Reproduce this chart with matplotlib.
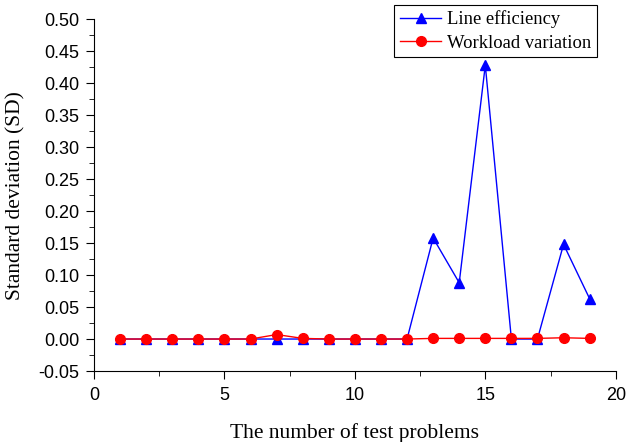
import numpy as np
import matplotlib.pyplot as plt
from matplotlib.ticker import MultipleLocator

# test problem index
problems = list(range(1, 20))

# standard deviation values
line_efficiency = [0, 0, 0, 0, 0, 0, 0, 0, 0, 0, 0, 0,
                   0.158, 0.088, 0.428, 0, 0, 0.148, 0.063]
workload_variation = [0, 0, 0, 0, 0, 0, 0.007, 0.001, 0, 0, 0, 0,
                      0.001, 0.001, 0.001, 0.001, 0.001, 0.002, 0.001]

fig = plt.figure(figsize=(6.27, 4.42), dpi=100)
ax = fig.add_axes([0.150, 0.1606, 0.832, 0.796])

ax.plot(problems, line_efficiency, color="blue", marker="^", markersize=7,
        linewidth=1, label="Line efficiency")
ax.plot(problems, workload_variation, color="red", marker="o", markersize=7,
        linewidth=1, label="Workload variation")

ax.set_xlim(0, 20)
ax.set_ylim(-0.05, 0.5)
ax.xaxis.set_major_locator(MultipleLocator(5))
ax.xaxis.set_minor_locator(MultipleLocator(2.5))
ax.yaxis.set_major_locator(MultipleLocator(0.05))
ax.yaxis.set_minor_locator(MultipleLocator(0.025))
ax.yaxis.set_major_formatter(plt.FormatStrFormatter("%.2f"))

ax.spines["top"].set_visible(False)
ax.spines["right"].set_visible(False)
ax.tick_params(which="major", direction="out", length=5.5, labelsize=13)
ax.tick_params(which="minor", direction="out", length=3.5)
ax.tick_params(axis="x", which="major", pad=6)
ax.tick_params(axis="y", which="major", pad=5)
for lab in ax.get_xticklabels() + ax.get_yticklabels():
    lab.set_fontfamily("Liberation Sans")

ax.set_xlabel("The number of test problems", fontfamily="Liberation Serif",
              fontsize=15.5, labelpad=14)
ax.set_ylabel("Standard deviation (SD)", fontfamily="Liberation Serif",
              fontsize=15.5, labelpad=9)

leg = ax.legend(loc="upper right", bbox_to_anchor=(0.952, 0.989),
                bbox_transform=fig.transFigure, prop={"family": "Liberation Serif", "size": 13.4},
                fancybox=False, edgecolor="black", framealpha=1,
                borderpad=0.3, labelspacing=0.35, handlelength=2.25,
                handletextpad=0.3, borderaxespad=0)
leg.get_frame().set_linewidth(0.8)

fig.savefig("out.png")
